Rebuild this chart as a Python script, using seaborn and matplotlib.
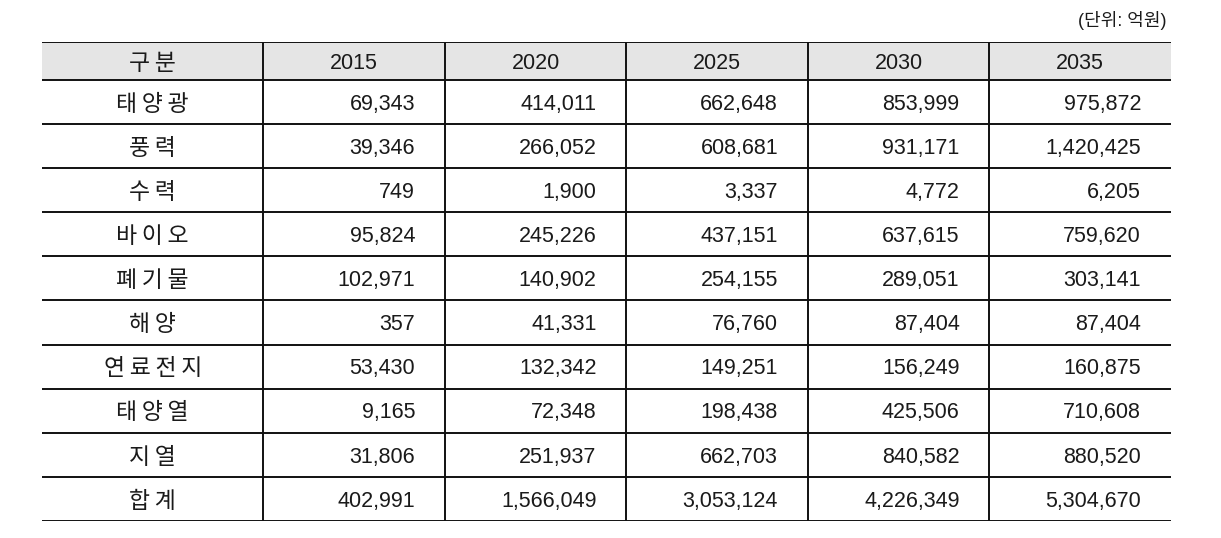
import matplotlib
matplotlib.use("Agg")
import matplotlib.pyplot as plt
import seaborn as sns
import pandas as pd

# table data (unit: 100 million KRW)
years = ["2015", "2020", "2025", "2030", "2035"]
sources = ["태양광", "풍력", "수력", "바이오", "폐기물", "해양", "연료전지", "태양열", "지열", "합계"]
v2015 = [69343, 39346, 749, 95824, 102971, 357, 53430, 9165, 31806, 402991]
v2020 = [414011, 266052, 1900, 245226, 140902, 41331, 132342, 72348, 251937, 1566049]
v2025 = [662648, 608681, 3337, 437151, 254155, 76760, 149251, 198438, 662703, 3053124]
v2030 = [853999, 931171, 4772, 637615, 289051, 87404, 156249, 425506, 840582, 4226349]
v2035 = [975872, 1420425, 6205, 759620, 303141, 87404, 160875, 710608, 880520, 5304670]
header_label = "구분"
unit_label = "(단위: 억원)"

df = pd.DataFrame({"2015": v2015, "2020": v2020, "2025": v2025,
                   "2030": v2030, "2035": v2035}, index=sources)

sns.set_theme(style="white")
plt.rcParams["font.family"] = ["Liberation Sans", "Noto Sans CJK KR", "DejaVu Sans"]


def spaced(s):
    # the original uses a little letter spacing in the Korean labels
    return "\u2009".join(s)


fig = plt.figure(figsize=(12.21, 5.38), dpi=100)
ax = fig.add_axes([42 / 1221, 17 / 538, 1129 / 1221, 479 / 538])

first_w = 1.22
head_h = 0.86
n_rows = len(sources)
col_edges = [0, first_w] + [first_w + i + 1 for i in range(len(years))]
total_w = col_edges[-1]
total_h = head_h + n_rows

ax.set_xlim(0, total_w)
ax.set_ylim(total_h, 0)
ax.axis("off")

# header background
ax.axhspan(0, head_h, xmin=0, xmax=1, color="#e5e5e5", lw=0, zorder=0)

lc = "#111111"
lw = 1.4
# horizontal lines
row_edges = [0, head_h] + [head_h + i + 1 for i in range(n_rows)]
for y in row_edges:
    ax.plot([0, total_w], [y, y], color=lc, lw=lw, solid_capstyle="butt", zorder=2)
# vertical lines (inner only)
for x in col_edges[1:-1]:
    ax.plot([x, x], [0, total_h], color=lc, lw=lw, solid_capstyle="butt", zorder=2)

fs = 15.5
fs_kr = 16.5
tc = "#1a1a1a"
dy = 0.05
ax.text(first_w / 2, head_h / 2 + dy, spaced(header_label), ha="center", va="center",
        fontsize=fs_kr, color=tc)
for j, yr in enumerate(years):
    ax.text(col_edges[j + 1] + 0.5, head_h / 2 + dy, yr, ha="center", va="center", fontsize=fs, color=tc)

pad = 0.165
for i, src in enumerate(sources):
    yc = head_h + i + 0.5 + dy
    ax.text(first_w / 2, yc, spaced(src), ha="center", va="center", fontsize=fs_kr, color=tc)
    for j, yr in enumerate(years):
        ax.text(col_edges[j + 2] - pad, yc, f"{df.loc[src, yr]:,}", ha="right", va="center",
                fontsize=fs, color=tc)

fig.text(1167 / 1221, 1 - 20 / 538, unit_label, ha="right", va="center", fontsize=13, color=tc)

fig.savefig("out.png", dpi=100, facecolor="white")
